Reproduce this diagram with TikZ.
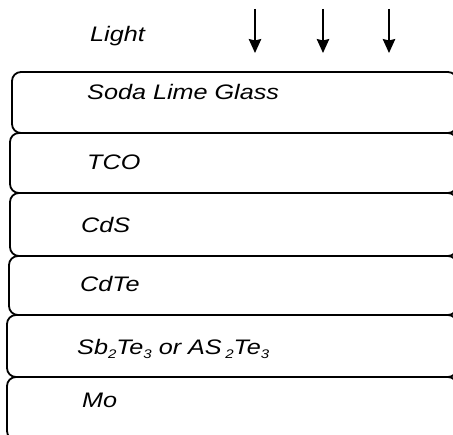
\documentclass[tikz,border=0pt]{standalone}
\usepackage{fontspec}
\setmainfont{Liberation Sans}[FakeStretch=1.2]
\usetikzlibrary{arrows.meta}

\tikzset{
  layer/.style={line width=1.8pt, rounded corners=9pt},
  lbl/.style={anchor=base west, inner sep=0pt, font=\fontsize{21}{25}\selectfont\itshape},
  ray/.style={line width=1.7pt, -{Stealth[length=14pt,width=12.5pt,inset=1.5pt]}}
}
% small lowered index used in the chemical formulas
\newcommand{\lowidx}[1]{\raisebox{-4pt}{\fontsize{12.5}{13}\selectfont #1}}

\begin{document}
\begin{tikzpicture}[x=1pt,y=-1pt]
  \useasboundingbox (0,0) rectangle (453,435);
  \clip (0,0) rectangle (453,435);

  % incoming light
  \node[lbl] (light) at (90,42) {Light};
  \foreach \i/\x in {1/255,2/323,3/389}{
    \coordinate (src\i) at (\x,9);
    \coordinate (dst\i) at (\x,53);
    \draw[ray] (src\i) -- (dst\i);
  }

  % stack of layers, top to bottom
  \draw[layer] (12,72)  rectangle (457,133);
  \draw[layer] (10,133) rectangle (457,193);
  \draw[layer] (10,193) rectangle (457,256);
  \draw[layer] (9,256)  rectangle (457,315);
  \draw[layer] (7,315)  rectangle (457,377);
  \draw[layer] (7,377)  rectangle (457,440);

  % layer names
  \node[lbl] (glass) at (87,100) {Soda Lime Glass};
  \node[lbl] (tco)   at (87,170) {TCO};
  \node[lbl] (cds)   at (81,233) {CdS};
  \node[lbl] (cdte)  at (80,292) {CdTe};
  \node[lbl] (sbte)  at (77,355) {Sb\lowidx{2}Te\lowidx{3} or AS\,\lowidx{2}Te\lowidx{3}};
  \node[lbl] (mo)    at (82,408) {Mo};
\end{tikzpicture}
\end{document}
